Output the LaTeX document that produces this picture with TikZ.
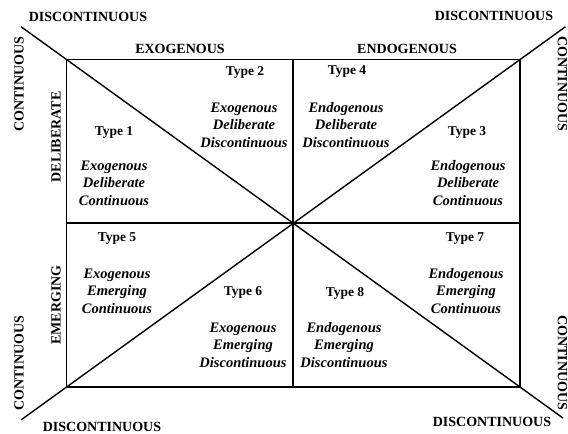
\documentclass[tikz,border=0pt]{standalone}
\usepackage{fontspec}
\setmainfont{Liberation Serif}
\usetikzlibrary{positioning, calc}

\tikzset{
  axislabel/.style={font=\fontsize{14}{16}\selectfont\bfseries, inner sep=0pt},
  typelabel/.style={font=\fontsize{13.5}{16}\selectfont\bfseries, inner sep=0pt},
  typetext/.style={font=\fontsize{14.5}{17.5}\selectfont\bfseries\itshape, align=center, inner sep=0pt},
  frame/.style={line width=1.4pt},
}

\begin{document}
\begin{tikzpicture}[x=1pt, y=-1pt]
    \useasboundingbox (0,0) rectangle (568,434);

    % corners and centre of the grid
    \coordinate (tl) at (66.5,59.5);
    \coordinate (tr) at (520,59.5);
    \coordinate (bl) at (66.5,387);
    \coordinate (br) at (520,387);
    \coordinate (c)  at (293,223);

    % diagonals run past the corners
    \coordinate (tlx) at ($(c)!1.2!(tl)$);
    \coordinate (trx) at ($(c)!1.2!(tr)$);
    \coordinate (blx) at ($(c)!1.2!(bl)$);
    \coordinate (brx) at ($(c)!1.19!(br)$);

    \draw[frame] (tl) rectangle (br);
    \draw[frame] (tl -| c) -- (bl -| c);   % middle vertical
    \draw[frame] (tl |- c) -- (tr |- c);   % middle horizontal
    \draw[frame] (tlx) -- (brx);
    \draw[frame] (trx) -- (blx);

    % outer axis labels
    \node[axislabel] (dtl) at (88,17)  {DISCONTINUOUS};
    \node[axislabel] (dtr) at (494,16) {DISCONTINUOUS};
    \node[axislabel] (dbl) at (102,427) {DISCONTINUOUS};
    \node[axislabel] (dbr) at (492,422) {DISCONTINUOUS};
    \node[axislabel, rotate=90]  (ctl) at (19,84)   {CONTINUOUS};
    \node[axislabel, rotate=90]  (cbl) at (19,363)  {CONTINUOUS};
    \node[axislabel, rotate=-90] (ctr) at (562.5,84)  {CONTINUOUS};
    \node[axislabel, rotate=-90] (cbr) at (562.5,363) {CONTINUOUS};

    \node[axislabel] (exo) at (180,49) {EXOGENOUS};
    \node[axislabel] (endo) at (407,49) {ENDOGENOUS};
    \node[axislabel, rotate=90] (delib) at (56,137) {DELIBERATE};
    \node[axislabel, rotate=90] (emerg) at (56,305) {EMERGING};

    % the eight types
    \node[typelabel] (t1) at (114,132) {Type 1};
    \node[typetext]  (d1) at (114,183) {Exogenous\\Deliberate\\Continuous};
    \node[typelabel] (t2) at (245,72)  {Type 2};
    \node[typetext]  (d2) at (244,125) {Exogenous\\Deliberate\\Discontinuous};
    \node[typelabel] (t3) at (467,132) {Type 3};
    \node[typetext]  (d3) at (468,183) {Endogenous\\Deliberate\\Continuous};
    \node[typelabel] (t4) at (347,72)  {Type 4};
    \node[typetext]  (d4) at (346,125) {Endogenous\\Deliberate\\Discontinuous};
    \node[typelabel] (t5) at (117,239) {Type 5};
    \node[typetext]  (d5) at (117,291) {Exogenous\\Emerging\\Continuous};
    \node[typelabel] (t6) at (243,292) {Type 6};
    \node[typetext]  (d6) at (243,345) {Exogenous\\Emerging\\Discontinuous};
    \node[typelabel] (t7) at (465,239) {Type 7};
    \node[typetext]  (d7) at (466,291) {Endogenous\\Emerging\\Continuous};
    \node[typelabel] (t8) at (345,293) {Type 8};
    \node[typetext]  (d8) at (344,345) {Endogenous\\Emerging\\Discontinuous};
\end{tikzpicture}
\end{document}
